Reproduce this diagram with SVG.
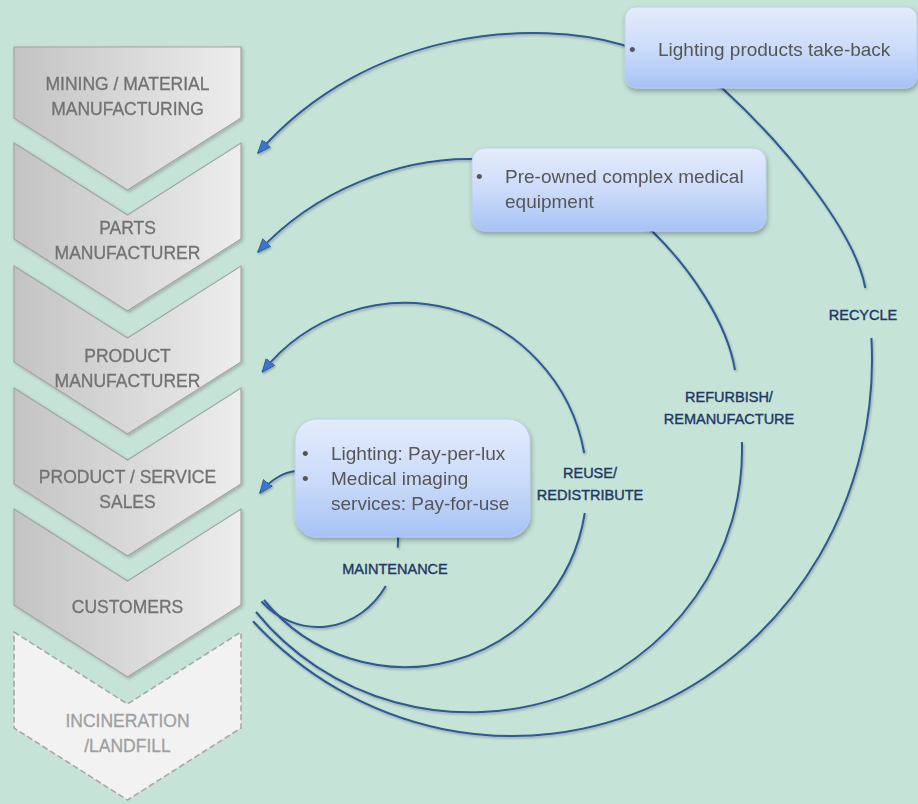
<svg xmlns="http://www.w3.org/2000/svg" width="918" height="804" viewBox="0 0 918 804">
  <defs>
    <linearGradient id="stageFill" x1="0" y1="0" x2="1" y2="0">
      <stop offset="0" stop-color="#C3C3C3"/>
      <stop offset="1" stop-color="#EDEDED"/>
    </linearGradient>
    <linearGradient id="noteFill" x1="0" y1="0" x2="0" y2="1">
      <stop offset="0" stop-color="#E4ECFC"/>
      <stop offset="0.55" stop-color="#C9DAF9"/>
      <stop offset="1" stop-color="#A6C2F5"/>
    </linearGradient>
    <filter id="stageShadow" x="-10%" y="-10%" width="120%" height="120%">
      <feDropShadow dx="1.5" dy="1.5" stdDeviation="1.5" flood-color="#000" flood-opacity="0.22"/>
    </filter>
    <filter id="noteShadow" x="-10%" y="-15%" width="120%" height="140%">
      <feDropShadow dx="1" dy="3" stdDeviation="2.5" flood-color="#000" flood-opacity="0.3"/>
    </filter>
    <filter id="lineShadow" x="-5%" y="-5%" width="110%" height="110%">
      <feDropShadow dx="1" dy="1.5" stdDeviation="1" flood-color="#000" flood-opacity="0.28"/>
    </filter>
    <marker id="arrow" viewBox="0 0 14 12" refX="13" refY="6" markerWidth="14" markerHeight="12" markerUnits="userSpaceOnUse" orient="auto">
      <path d="M0,0.5 L13.5,6 L0,11.5 Z" fill="#3A76CC" stroke="#2B5797" stroke-width="0.8"/>
    </marker>
  </defs>
  <style>
    .stage { fill: url(#stageFill); stroke: #A3A3A3; stroke-width: 1.2; }
    .stage-end { fill: #F2F2F2; stroke: #A8A8A8; stroke-width: 1.6; stroke-dasharray: 6 3; }
    .stage-text { font-family: "Liberation Sans", Arial, sans-serif; font-size: 17.5px; fill: #727272; stroke: #727272; stroke-width: 0.3; text-anchor: middle; }
    .stage-text.faint { fill: #A0A0A0; stroke: #A0A0A0; }
    .note { fill: url(#noteFill); stroke: #B8CBEE; stroke-width: 0.8; }
    .note-text { font-family: "Liberation Sans", Arial, sans-serif; font-size: 19px; fill: #575757; }
    .loop { fill: none; stroke: #2E5896; stroke-width: 2; }
    .loop-label { font-family: "Liberation Sans", Arial, sans-serif; font-size: 14.5px; fill: #1F3864; stroke: #1F3864; stroke-width: 0.4; text-anchor: middle; }
  </style>

  <!-- background -->
  <rect x="0" y="0" width="918" height="804" fill="#C6E3D8"/>

  <!-- value chain stages -->
  <g id="stage-mining" filter="url(#stageShadow)">
    <path class="stage" d="M14,47 L241,47 L241,118 L127.5,190 L14,118 Z"/>
    <text class="stage-text" x="127.5" y="90">MINING / MATERIAL</text>
    <text class="stage-text" x="127.5" y="115">MANUFACTURING</text>
  </g>
  <g id="stage-parts" filter="url(#stageShadow)">
    <path class="stage" d="M14,143 L127.5,215 L241,143 L241,239 L127.5,311 L14,239 Z"/>
    <text class="stage-text" x="127.5" y="234">PARTS</text>
    <text class="stage-text" x="127.5" y="259">MANUFACTURER</text>
  </g>
  <g id="stage-product" filter="url(#stageShadow)">
    <path class="stage" d="M14,266 L127.5,338 L241,266 L241,362 L127.5,434 L14,362 Z"/>
    <text class="stage-text" x="127.5" y="362">PRODUCT</text>
    <text class="stage-text" x="127.5" y="387">MANUFACTURER</text>
  </g>
  <g id="stage-sales" filter="url(#stageShadow)">
    <path class="stage" d="M14,388 L127.5,460 L241,388 L241,484 L127.5,556 L14,484 Z"/>
    <text class="stage-text" x="127.5" y="483">PRODUCT / SERVICE</text>
    <text class="stage-text" x="127.5" y="508">SALES</text>
  </g>
  <g id="stage-customers" filter="url(#stageShadow)">
    <path class="stage" d="M14,509 L127.5,581 L241,509 L241,605 L127.5,677 L14,605 Z"/>
    <text class="stage-text" x="127.5" y="613">CUSTOMERS</text>
  </g>
  <g id="stage-landfill">
    <path class="stage-end" d="M14,632 L127.5,704 L241,632 L241,728 L127.5,800 L14,728 Z"/>
    <text class="stage-text faint" x="127.5" y="727">INCINERATION</text>
    <text class="stage-text faint" x="127.5" y="752">/LANDFILL</text>
  </g>

  <!-- return loops from customers -->
  <g id="connectors" filter="url(#lineShadow)">
    <!-- recycle -->
    <path class="loop" d="M253,621.2 A360,376 0 0 0 871.4,338"/>
    <path class="loop" marker-end="url(#arrow)" d="M865.3,288 C856,236 792,152 722,88 L623,45 C540,20 370,25 258,153"/>
    <!-- refurbish / remanufacture -->
    <path class="loop" d="M256,612 A272,262 0 0 0 741.9,442"/>
    <path class="loop" marker-end="url(#arrow)" d="M735,370 C727,322 690,268 652,231 L472,159 C400,158 315,190 258,252"/>
    <!-- reuse / redistribute -->
    <path class="loop" d="M263.9,600 A182,182 0 0 0 584.8,513"/>
    <path class="loop" marker-end="url(#arrow)" d="M584.2,453 A182,182 0 0 0 262.4,371.9"/>
    <!-- maintenance -->
    <path class="loop" d="M261.4,601.5 A80,87 0 0 0 385.8,586.1"/>
    <path class="loop" marker-end="url(#arrow)" d="M397.7,547.6 A80,87 0 0 0 397.7,532.4 L296,471 C284,472 270,480 260,493"/>
  </g>

  <!-- business model notes -->
  <g id="note-takeback" filter="url(#noteShadow)">
    <rect class="note" x="625" y="7" width="292" height="81" rx="11"/>
    <text class="note-text" x="629" y="56">•</text>
    <text class="note-text" x="658" y="56">Lighting products take-back</text>
  </g>
  <g id="note-preowned" filter="url(#noteShadow)">
    <rect class="note" x="472" y="148" width="294" height="83" rx="13"/>
    <text class="note-text" x="476" y="183">•</text>
    <text class="note-text" x="505" y="183">Pre-owned complex medical</text>
    <text class="note-text" x="505" y="208">equipment</text>
  </g>
  <g id="note-payperuse" filter="url(#noteShadow)">
    <rect class="note" x="295" y="419" width="235" height="118" rx="22"/>
    <text class="note-text" x="302" y="460">•</text>
    <text class="note-text" x="331" y="460">Lighting: Pay-per-lux</text>
    <text class="note-text" x="302" y="485">•</text>
    <text class="note-text" x="331" y="485">Medical imaging</text>
    <text class="note-text" x="331" y="510">services: Pay-for-use</text>
  </g>

  <!-- loop labels -->
  <g id="label-recycle">
    <text class="loop-label" x="863" y="320">RECYCLE</text>
  </g>
  <g id="label-refurbish">
    <text class="loop-label" x="729" y="402">REFURBISH/</text>
    <text class="loop-label" x="729" y="424">REMANUFACTURE</text>
  </g>
  <g id="label-reuse">
    <text class="loop-label" x="590" y="478">REUSE/</text>
    <text class="loop-label" x="590" y="500">REDISTRIBUTE</text>
  </g>
  <g id="label-maintenance">
    <text class="loop-label" x="395" y="574">MAINTENANCE</text>
  </g>
</svg>
